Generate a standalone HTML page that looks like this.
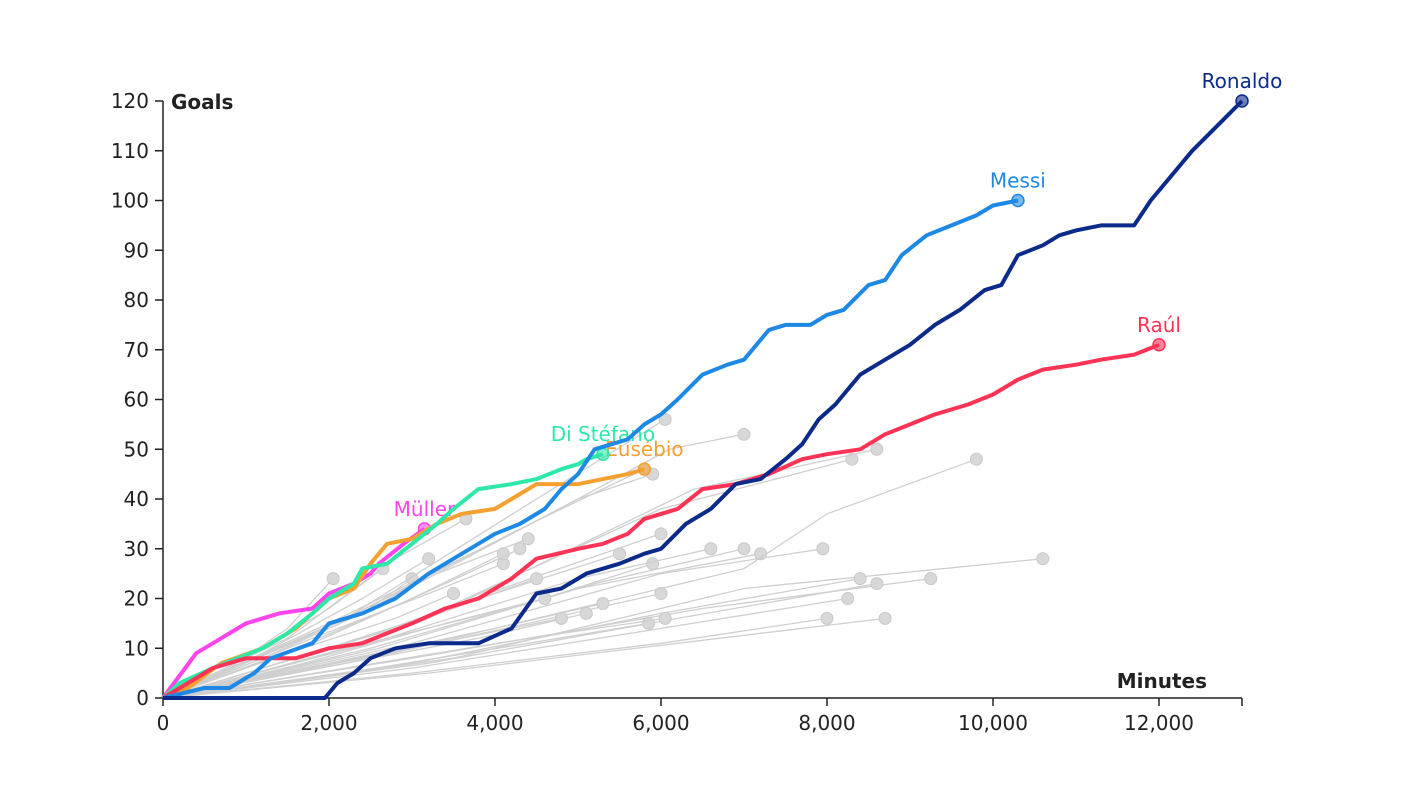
<!DOCTYPE html>
<html><head><meta charset="utf-8">
<style>
html,body{margin:0;padding:0;background:#fff;}
svg{display:block;font-family:"DejaVu Sans","Liberation Sans",sans-serif;}
</style></head>
<body>
<svg id="chart" width="1410" height="796" viewBox="0 0 1410 796"></svg>
<script>
const xTicks=[0,2000,4000,6000,8000,10000,12000];
const yTicks=[0,10,20,30,40,50,60,70,80,90,100,110,120];
const names=["Ronaldo","Messi","Raúl","Di Stéfano","Eusébio","Müller"];
const colors=["#0b2a8a","#1e88e5","#ff3355","#2ee8a8","#f5a030","#ff44ee"];
const ronaldo=[[0,0],[1950,0],[2100,3],[2300,5],[2500,8],[2800,10],[3200,11],[3800,11],[4200,14],[4500,21],[4800,22],[5100,25],[5500,27],[5800,29],[6000,30],[6300,35],[6600,38],[6900,43],[7200,44],[7500,48],[7700,51],[7900,56],[8100,59],[8400,65],[8700,68],[9000,71],[9300,75],[9600,78],[9900,82],[10100,83],[10300,89],[10600,91],[10800,93],[11000,94],[11300,95],[11700,95],[11900,100],[12100,104],[12400,110],[12700,115],[13000,120]];
const messi=[[0,0],[500,2],[800,2],[1100,5],[1300,8],[1800,11],[2000,15],[2400,17],[2800,20],[3200,25],[3500,28],[3800,31],[4000,33],[4300,35],[4600,38],[4800,42],[5000,45],[5200,50],[5600,52],[5800,55],[6000,57],[6200,60],[6500,65],[6800,67],[7000,68],[7300,74],[7500,75],[7800,75],[8000,77],[8200,78],[8500,83],[8700,84],[8900,89],[9200,93],[9500,95],[9800,97],[10000,99],[10300,100]];
const raul=[[0,0],[300,3],[600,6],[1000,8],[1600,8],[2000,10],[2400,11],[2700,13],[3000,15],[3400,18],[3800,20],[4200,24],[4500,28],[5000,30],[5300,31],[5600,33],[5800,36],[6200,38],[6500,42],[6900,43],[7300,45],[7700,48],[8000,49],[8400,50],[8700,53],[9000,55],[9300,57],[9700,59],[10000,61],[10300,64],[10600,66],[11000,67],[11300,68],[11700,69],[12000,71]];
const distefano=[[0,0],[200,3],[600,6],[1200,10],[1500,13],[1800,17],[2000,20],[2300,23],[2400,26],[2700,27],[3000,31],[3300,35],[3500,38],[3800,42],[4200,43],[4500,44],[4800,46],[5000,47],[5100,48],[5300,49]];
const eusebio=[[0,0],[300,2],[700,7],[1200,10],[1600,14],[2000,20],[2300,22],[2500,27],[2700,31],[3000,32],[3300,35],[3600,37],[4000,38],[4200,40],[4500,43],[5000,43],[5300,44],[5600,45],[5800,46]];
const muller=[[0,0],[400,9],[700,12],[1000,15],[1400,17],[1800,18],[2000,21],[2300,23],[2500,25],[2600,27],[2900,31],[3150,34]];
const highlighted=[ronaldo,messi,raul,distefano,eusebio,muller];
const others=[
[[0,0],[800,6],[1500,14],[2050,24]],[[0,0],[1000,8],[2000,18],[2650,26]],[[0,0],[1200,9],[2400,20],[3200,28]],
[[0,0],[1500,12],[2800,28],[3650,36]],[[0,0],[1200,8],[2400,17],[3000,24]],[[0,0],[1500,9],[2800,16],[3500,21]],
[[0,0],[1800,12],[3200,21],[4100,27]],[[0,0],[1600,10],[3000,20],[4100,29]],[[0,0],[1800,11],[3400,23],[4300,30]],
[[0,0],[1700,12],[3300,25],[4400,32]],[[0,0],[2000,9],[4000,21],[5500,29]],[[0,0],[2000,15],[4200,33],[5000,40],[5900,45]],
[[0,0],[2200,16],[4300,34],[5800,46]],[[0,0],[2200,16],[4500,40],[6050,56]],[[0,0],[2500,18],[5000,40],[6100,50],[7000,53]],
[[0,0],[2200,10],[4400,19],[5900,27]],[[0,0],[2400,12],[4600,25],[6000,33]],[[0,0],[2500,11],[5000,24],[6600,30]],
[[0,0],[2600,10],[5200,23],[7000,30]],[[0,0],[2500,10],[5000,22],[7200,29]],[[0,0],[3000,11],[6000,25],[7950,30]],
[[0,0],[3000,15],[6000,38],[8300,48]],[[0,0],[3200,16],[6400,42],[8600,50]],[[0,0],[3500,12],[7000,26],[8000,37],[9800,48]],
[[0,0],[3500,8],[7000,22],[10600,28]],[[0,0],[3000,8],[6500,18],[9250,24]],[[0,0],[3000,7],[6000,17],[8400,24]],
[[0,0],[3200,7],[6200,16],[8600,23]],[[0,0],[3000,6],[6000,14],[8250,20]],[[0,0],[3000,5],[6000,11],[8000,16]],
[[0,0],[3200,5],[6200,11],[8700,16]],[[0,0],[2200,5],[4400,11],[5850,15]],[[0,0],[2200,6],[4400,12],[6050,16]],
[[0,0],[2200,7],[4400,15],[6000,21]],[[0,0],[2000,7],[4000,14],[5300,19]],[[0,0],[1900,6],[3800,12],[5100,17]],
[[0,0],[1800,6],[3600,12],[4800,16]],[[0,0],[1700,7],[3400,15],[4600,20]],[[0,0],[1600,8],[3300,17],[4500,24]]
];
const labelPos=[[0,-20,"middle"],[0,-20,"middle"],[0,-20,"middle"],[0,-20,"middle"],[0,-20,"middle"],[0,-20,"middle"]];

const NS="http://www.w3.org/2000/svg";
const svg=document.getElementById("chart");
const X0=163,X1=1159,Y0=698,Y1=101;
const sx=v=>X0+(v-0)*(X1-X0)/12000;
const sy=v=>Y0-(v-0)*(Y0-Y1)/120;
function mk(tag,attrs,parent){const e=document.createElementNS(NS,tag);for(const k in attrs)e.setAttribute(k,attrs[k]);(parent||svg).appendChild(e);return e;}
function pathD(pts){return pts.map((p,i)=>(i?"L":"M")+sx(p[0]).toFixed(1)+","+sy(p[1]).toFixed(1)).join("");}

// gray lines
others.forEach((pts,i)=>{
  const g=mk("path",{d:pathD(pts),fill:"none",stroke:"#cfcfcf","stroke-width":1.3});
  
  
  const l=pts[pts.length-1];
  const c=mk("circle",{cx:sx(l[0]),cy:sy(l[1]),r:6,fill:"#d8d8d8",stroke:"#c8c8c8","stroke-width":1});
  
  
});
// axes
const xa=mk("g",{});


mk("line",{x1:X0,y1:Y0,x2:sx(13000),y2:Y0,stroke:"#222","stroke-width":1.5},xa);
xTicks.concat([13000]).forEach(t=>{
  mk("line",{x1:sx(t),y1:Y0,x2:sx(t),y2:Y0+8,stroke:"#222","stroke-width":1.5},xa);
});
xTicks.forEach(t=>{
  const tx=mk("text",{x:sx(t),y:Y0+32,"text-anchor":"middle","font-size":20,fill:"#222"},xa);
  tx.textContent=t.toLocaleString("en-US");
  
  
});
const ya=mk("g",{});


mk("line",{x1:X0,y1:Y0,x2:X0,y2:Y1,stroke:"#222","stroke-width":1.5},ya);
yTicks.forEach(t=>{
  mk("line",{x1:X0-8,y1:sy(t),x2:X0,y2:sy(t),stroke:"#222","stroke-width":1.5},ya);
  const tx=mk("text",{x:X0-14,y:sy(t)+7,"text-anchor":"end","font-size":20,fill:"#222"},ya);
  tx.textContent=t;
  
  
});
const yt=mk("text",{x:171,y:109,"font-size":20,"font-weight":"bold",fill:"#222"});
yt.textContent="Goals";


const xt=mk("text",{x:1207,y:688,"text-anchor":"end","font-size":20,"font-weight":"bold",fill:"#222"});
xt.textContent="Minutes";



// highlighted (draw in reverse so Ronaldo on top)
for(let i=highlighted.length-1;i>=0;i--){
  const pts=highlighted[i];
  const p=mk("path",{d:pathD(pts),fill:"none",stroke:colors[i],"stroke-width":4,"stroke-linejoin":"round"});
  
  
  const l=pts[pts.length-1];
  const c=mk("circle",{cx:sx(l[0]),cy:sy(l[1]),r:6,fill:colors[i],"fill-opacity":0.6,stroke:colors[i],"stroke-width":1.5});
  
  
  const t=mk("text",{x:sx(l[0])+labelPos[i][0],y:sy(l[1])+labelPos[i][1]+7,"text-anchor":labelPos[i][2],"font-size":20,fill:colors[i]});
  t.textContent=names[i];
  
  
}
</script>
</body></html>
